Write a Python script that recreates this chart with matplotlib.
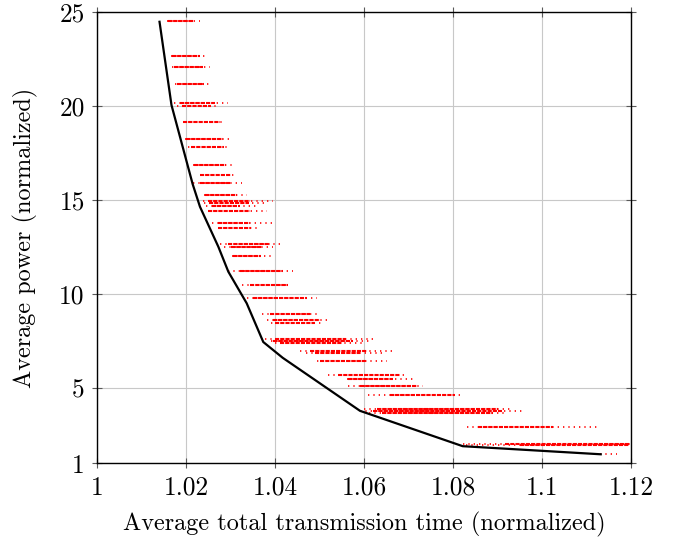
import matplotlib
matplotlib.use("Agg")
import matplotlib.pyplot as plt

plt.rcParams['font.family'] = ['cmr10', 'DejaVu Serif']
plt.rcParams['axes.formatter.use_mathtext'] = True

# Pareto front (black line)
front_x = [1.01399, 1.01668, 1.02145, 1.02309, 1.02721, 1.02946, 1.03359,
           1.03732, 1.04169, 1.05907, 1.08216, 1.11319]
front_y = [24.48, 20.05, 15.84, 14.64, 12.52, 11.19, 9.51,
           7.45, 6.61, 3.79, 1.91, 1.48]

# Red scatter bands: power level, full extent (sparse), dense core
band_y      = [24.54, 22.66, 22.07, 21.17, 20.15, 20.02, 19.16, 18.24, 17.84,
               16.86, 16.33, 15.93, 15.27, 14.95, 14.82, 14.70, 14.41, 13.76,
               13.53, 12.64, 12.52, 12.02, 11.22, 10.48, 9.80, 8.92, 8.60,
               8.46, 7.63, 7.52, 7.40, 6.98, 6.85, 6.45, 5.72, 5.46, 5.12,
               4.63, 3.88, 3.78, 3.67, 2.92, 2.04, 1.98, 1.49]
band_x_from = [1.0157, 1.0166, 1.0168, 1.0175, 1.0172, 1.0180, 1.0193, 1.0197,
               1.0204, 1.0215, 1.0230, 1.0215, 1.0240, 1.0238, 1.0240, 1.0245,
               1.0249, 1.0258, 1.0271, 1.0276, 1.0285, 1.0303, 1.0294, 1.0325,
               1.0337, 1.0370, 1.0381, 1.0390, 1.0377, 1.0390, 1.0400, 1.0456,
               1.0470, 1.0494, 1.0519, 1.0561, 1.0564, 1.0609, 1.0600, 1.0591,
               1.0610, 1.0831, 1.0822, 1.0830, 1.1130]
band_core_a = [1.0160, 1.0168, 1.0172, 1.0180, 1.0186, 1.0190, 1.0193, 1.0200,
               1.0210, 1.0218, 1.0232, 1.0230, 1.0242, 1.0249, 1.0252, 1.0258,
               1.0250, 1.0271, 1.0271, 1.0294, 1.0300, 1.0305, 1.0321, 1.0343,
               1.0350, 1.0388, 1.0395, 1.0400, 1.0400, 1.0395, 1.0410, 1.0478,
               1.0490, 1.0501, 1.0541, 1.0564, 1.0591, 1.0658, 1.0630, 1.0620,
               1.0640, 1.0856, 1.0917, 1.0950, 1.1130]
band_core_b = [1.0215, 1.0230, 1.0237, 1.0240, 1.0265, 1.0255, 1.0275, 1.0283,
               1.0285, 1.0290, 1.0300, 1.0300, 1.0314, 1.0343, 1.0340, 1.0320,
               1.0343, 1.0343, 1.0345, 1.0388, 1.0370, 1.0368, 1.0418, 1.0429,
               1.0471, 1.0478, 1.0501, 1.0490, 1.0560, 1.0575, 1.0550, 1.0606,
               1.0590, 1.0606, 1.0681, 1.0665, 1.0719, 1.0804, 1.0900, 1.0910,
               1.0890, 1.1025, 1.1198, 1.1195, 1.1130]
band_x_to   = [1.0231, 1.0249, 1.0253, 1.0256, 1.0294, 1.0270, 1.0283, 1.0301,
               1.0292, 1.0303, 1.0314, 1.0325, 1.0337, 1.0395, 1.0380, 1.0360,
               1.0382, 1.0395, 1.0366, 1.0411, 1.0395, 1.0395, 1.0440, 1.0433,
               1.0494, 1.0494, 1.0519, 1.0510, 1.0629, 1.0610, 1.0600, 1.0665,
               1.0640, 1.0651, 1.0696, 1.0710, 1.0733, 1.0816, 1.0930, 1.0957,
               1.0920, 1.1126, 1.1200, 1.1200, 1.1168]

x_ticks = [1.0, 1.02, 1.04, 1.06, 1.08, 1.10, 1.12]
x_tick_labels = ['1', '1.02', '1.04', '1.06', '1.08', '1.1', '1.12']
y_ticks = [1, 5, 10, 15, 20, 25]
y_tick_labels = ['1', '5', '10', '15', '20', '25']

fig = plt.figure(figsize=(6.83, 5.43), dpi=100)
ax = fig.add_axes([97.3 / 683, 1 - 463.3 / 543, (631 - 97.3) / 683, (463.3 - 12) / 543])

for y, xa, ca, cb, xb in zip(band_y, band_x_from, band_core_a, band_core_b, band_x_to):
    ax.plot([xa, xb], [y, y], color='red', lw=1.2, linestyle=(0, (0.8, 2.4)),
            dash_capstyle='butt', zorder=3)
    ax.plot([ca, cb], [y, y], color='red', lw=1.5, linestyle=(0, (2.0, 0.5)),
            dash_capstyle='butt', zorder=3)

ax.plot(front_x, front_y, color='black', lw=1.6, zorder=4)

ax.set_xlim(1.0, 1.12)
ax.set_ylim(1, 25)
ax.set_xticks(x_ticks)
ax.set_xticklabels(x_tick_labels)
ax.set_yticks(y_ticks)
ax.set_yticklabels(y_tick_labels)
ax.grid(True, color='#c8c8c8', lw=0.8)
ax.set_axisbelow(True)
ax.tick_params(direction='inout', length=7, width=0.8, color='0.35',
               top=True, right=True, labelsize=18.3, pad=5.5)
for s in ax.spines.values():
    s.set_linewidth(1.0)
    s.set_color('black')

ax.set_xlabel('Average total transmission time (normalized)', fontsize=17.5, labelpad=9)
ax.set_ylabel('Average power (normalized)', fontsize=17.5, labelpad=15)

fig.savefig('out.png', dpi=100)
